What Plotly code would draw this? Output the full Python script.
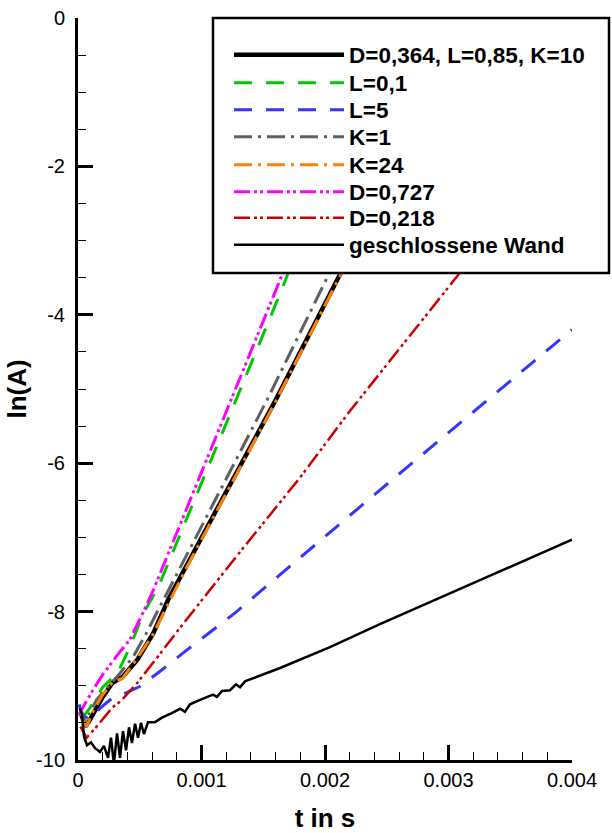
import plotly.graph_objects as go

# ---- data (t in s, ln(A)) ----
base_t = [0.00002, 0.00006, 0.0001, 0.00015, 0.0002, 0.00028, 0.00036, 0.00048, 0.00061, 0.00073, 0.0009, 0.0012, 0.0016, 0.00212, 0.0024]
base_y = [-9.35, -9.55, -9.45, -9.3, -9.15, -8.96, -8.88, -8.65, -8.29, -7.84, -7.32, -6.39, -5.15, -3.46, -2.5]

l01_t = [0.00003, 0.0001, 0.0002, 0.00032, 0.00042, 0.00053, 0.00065, 0.0009, 0.00121, 0.00166, 0.0018]
l01_y = [-9.45, -9.29, -9.02, -8.83, -8.48, -8.02, -7.67, -6.67, -5.42, -3.62, -3.0]

l5_t = [0.00001, 0.00003, 0.0001, 0.00018, 0.00026, 0.00035, 0.0005, 0.00066, 0.00088, 0.00127, 0.0018, 0.00236, 0.0032, 0.004]
l5_y = [-9.25, -9.4, -9.45, -9.3, -9.19, -9.12, -9.01, -8.81, -8.52, -8.02, -7.27, -6.48, -5.31, -4.2]

k1_t = [0.00002, 0.00006, 0.0001, 0.00015, 0.00025, 0.00034, 0.00045, 0.00055, 0.00068, 0.0009, 0.0012, 0.00153, 0.00202, 0.0023]
k1_y = [-9.3, -9.5, -9.35, -9.19, -9.0, -8.83, -8.6, -8.3, -7.88, -7.17, -6.21, -5.15, -3.49, -2.5]

k24_t = [0.00003, 0.00007, 0.00012, 0.0002, 0.00028, 0.00036, 0.00048, 0.00061, 0.00075, 0.0009, 0.0012, 0.0016, 0.00212, 0.0024]
k24_y = [-9.45, -9.55, -9.35, -9.12, -8.95, -8.9, -8.63, -8.3, -7.83, -7.34, -6.41, -5.17, -3.48, -2.5]

d0727_t = [0.00001, 0.00004, 0.00012, 0.0002, 0.00034, 0.00042, 0.00055, 0.00061, 0.0009, 0.00123, 0.001636, 0.0018]
d0727_y = [-9.4, -9.29, -9.06, -8.85, -8.54, -8.38, -7.93, -7.71, -6.53, -5.19, -3.53, -2.8]

d0218_t = [0.00002, 0.00007, 0.00015, 0.00028, 0.00035, 0.00048, 0.00065, 0.00083, 0.0013, 0.0018, 0.0022, 0.00308, 0.0033]
d0218_y = [-9.55, -9.7, -9.55, -9.29, -9.2, -8.96, -8.6, -8.21, -7.22, -6.19, -5.3, -3.46, -2.95]

wall_t = [0.000016, 0.000032, 0.000049, 0.000073, 0.000105, 0.000138, 0.000178, 0.00021, 0.000243,
          0.000267, 0.000291, 0.000316, 0.00034, 0.000364, 0.000389, 0.000413, 0.000437, 0.000462,
          0.000486, 0.00051, 0.000534, 0.000567, 0.000623, 0.00068, 0.000745, 0.000826, 0.000866,
          0.000907, 0.000988, 0.001093, 0.001125, 0.001166, 0.001231, 0.001279, 0.001312, 0.001352,
          0.001636, 0.00204, 0.002445, 0.0032, 0.004]
wall_y = [-9.30, -9.38, -9.69, -9.80, -9.76, -9.84, -9.89, -9.81, -9.97,
          -9.70, -10.05, -9.64, -9.97, -9.61, -9.87, -9.56, -9.77, -9.51,
          -9.70, -9.50, -9.65, -9.49, -9.49, -9.43, -9.38, -9.31, -9.35,
          -9.25, -9.19, -9.12, -9.15, -9.07, -9.06, -8.98, -9.02, -8.94,
          -8.76, -8.48, -8.17, -7.62, -7.03]

names = ["D=0,364, L=0,85, K=10", "L=0,1", "L=5", "K=1", "K=24", "D=0,727", "D=0,218", "geschlossene Wand"]
xs = [base_t, l01_t, l5_t, k1_t, k24_t, d0727_t, d0218_t, wall_t]
ys = [base_y, l01_y, l5_y, k1_y, k24_y, d0727_y, d0218_y, wall_y]

x_tickvals = [0, 0.001, 0.002, 0.003, 0.004]
x_ticktext = ["0", "0.001", "0.002", "0.003", "0.004"]
y_tickvals = [-10, -8, -6, -4, -2, 0]
y_ticktext = ["-10", "-8", "-6", "-4", "-2", "0"]

colors = ["#000000", "#00c800", "#3535ff", "#606060", "#ff8000", "#ff00ff", "#cc0000", "#000000"]
widths = [4.5, 3, 3, 3, 3, 3, 2.5, 2.5]
dashes = ["solid", "18px,14px", "18px,14px", "18px,6px,3px,6px", "18px,6px,3px,6px",
          "16px,4px,3px,3px,3px,4px", "16px,4px,3px,3px,3px,4px", "solid"]

FONT = "Liberation Sans, Arial, sans-serif"
W, H = 612, 833
ML, MR, MT, MB = 78, 40, 18, 73
PW, PH = W - ML - MR, H - MT - MB

def px_x(p):
    return (p - ML) / PW

def px_y(p):
    return (H - MB - p) / PH

# legend rows (pixel centre of each legend row)
row_px = [55, 83, 110, 137, 165, 192, 218, 245]

fig = go.Figure()
legend_layouts = {}
for i in range(len(names)):
    lname = "legend" if i == 0 else f"legend{i + 1}"
    fig.add_trace(go.Scatter(
        x=xs[i], y=ys[i], mode="lines", name=names[i], legend=lname,
        line=dict(color=colors[i], width=widths[i], dash=dashes[i]),
    ))
    legend_layouts[lname] = dict(
        x=px_x(229), y=px_y(row_px[i]), xanchor="left", yanchor="middle",
        bgcolor="rgba(0,0,0,0)", borderwidth=0,
        font=dict(family=FONT, size=22.5, weight="bold", color="black"),
        itemwidth=110,
    )

fig.update_layout(
    width=W, height=H,
    margin=dict(l=ML, r=MR, t=MT, b=MB),
    paper_bgcolor="white", plot_bgcolor="white",
    font=dict(family=FONT, color="black"),
    showlegend=True,
    shapes=[dict(type="rect", xref="paper", yref="paper",
                 x0=px_x(213), x1=px_x(609), y0=px_y(273), y1=px_y(18),
                 line=dict(color="black", width=2.5), fillcolor="white", layer="above")],
    **legend_layouts,
)

fig.update_xaxes(
    range=[0, 0.004], tickvals=x_tickvals, ticktext=x_ticktext, automargin=False,
    showline=True, linecolor="black", linewidth=3, mirror=False,
    ticks="inside", ticklen=15, tickwidth=3, tickcolor="black",
    minor=dict(ticks="inside", ticklen=8, tickwidth=1, dtick=0.0002, tick0=0, tickcolor="black", showgrid=False),
    showgrid=False, zeroline=False,
    tickfont=dict(family=FONT, size=20),
    title=dict(text="t in s", font=dict(family=FONT, size=26, weight="bold"), standoff=21),
)
fig.update_yaxes(
    range=[-10, 0], tickvals=y_tickvals, ticktext=y_ticktext, automargin=False,
    showline=True, linecolor="black", linewidth=3, mirror=False,
    ticks="inside", ticklen=15, tickwidth=3, tickcolor="black",
    minor=dict(ticks="inside", ticklen=8, tickwidth=1, dtick=0.5, tick0=0, tickcolor="black", showgrid=False),
    showgrid=False, zeroline=False,
    tickfont=dict(family=FONT, size=20), ticklabelstandoff=6,
    title=dict(text="ln(A)", font=dict(family=FONT, size=26, weight="bold"), standoff=2),
)

fig.write_html("out.html", config={"displayModeBar": False},
               post_script="document.body.style.margin='0px';")
